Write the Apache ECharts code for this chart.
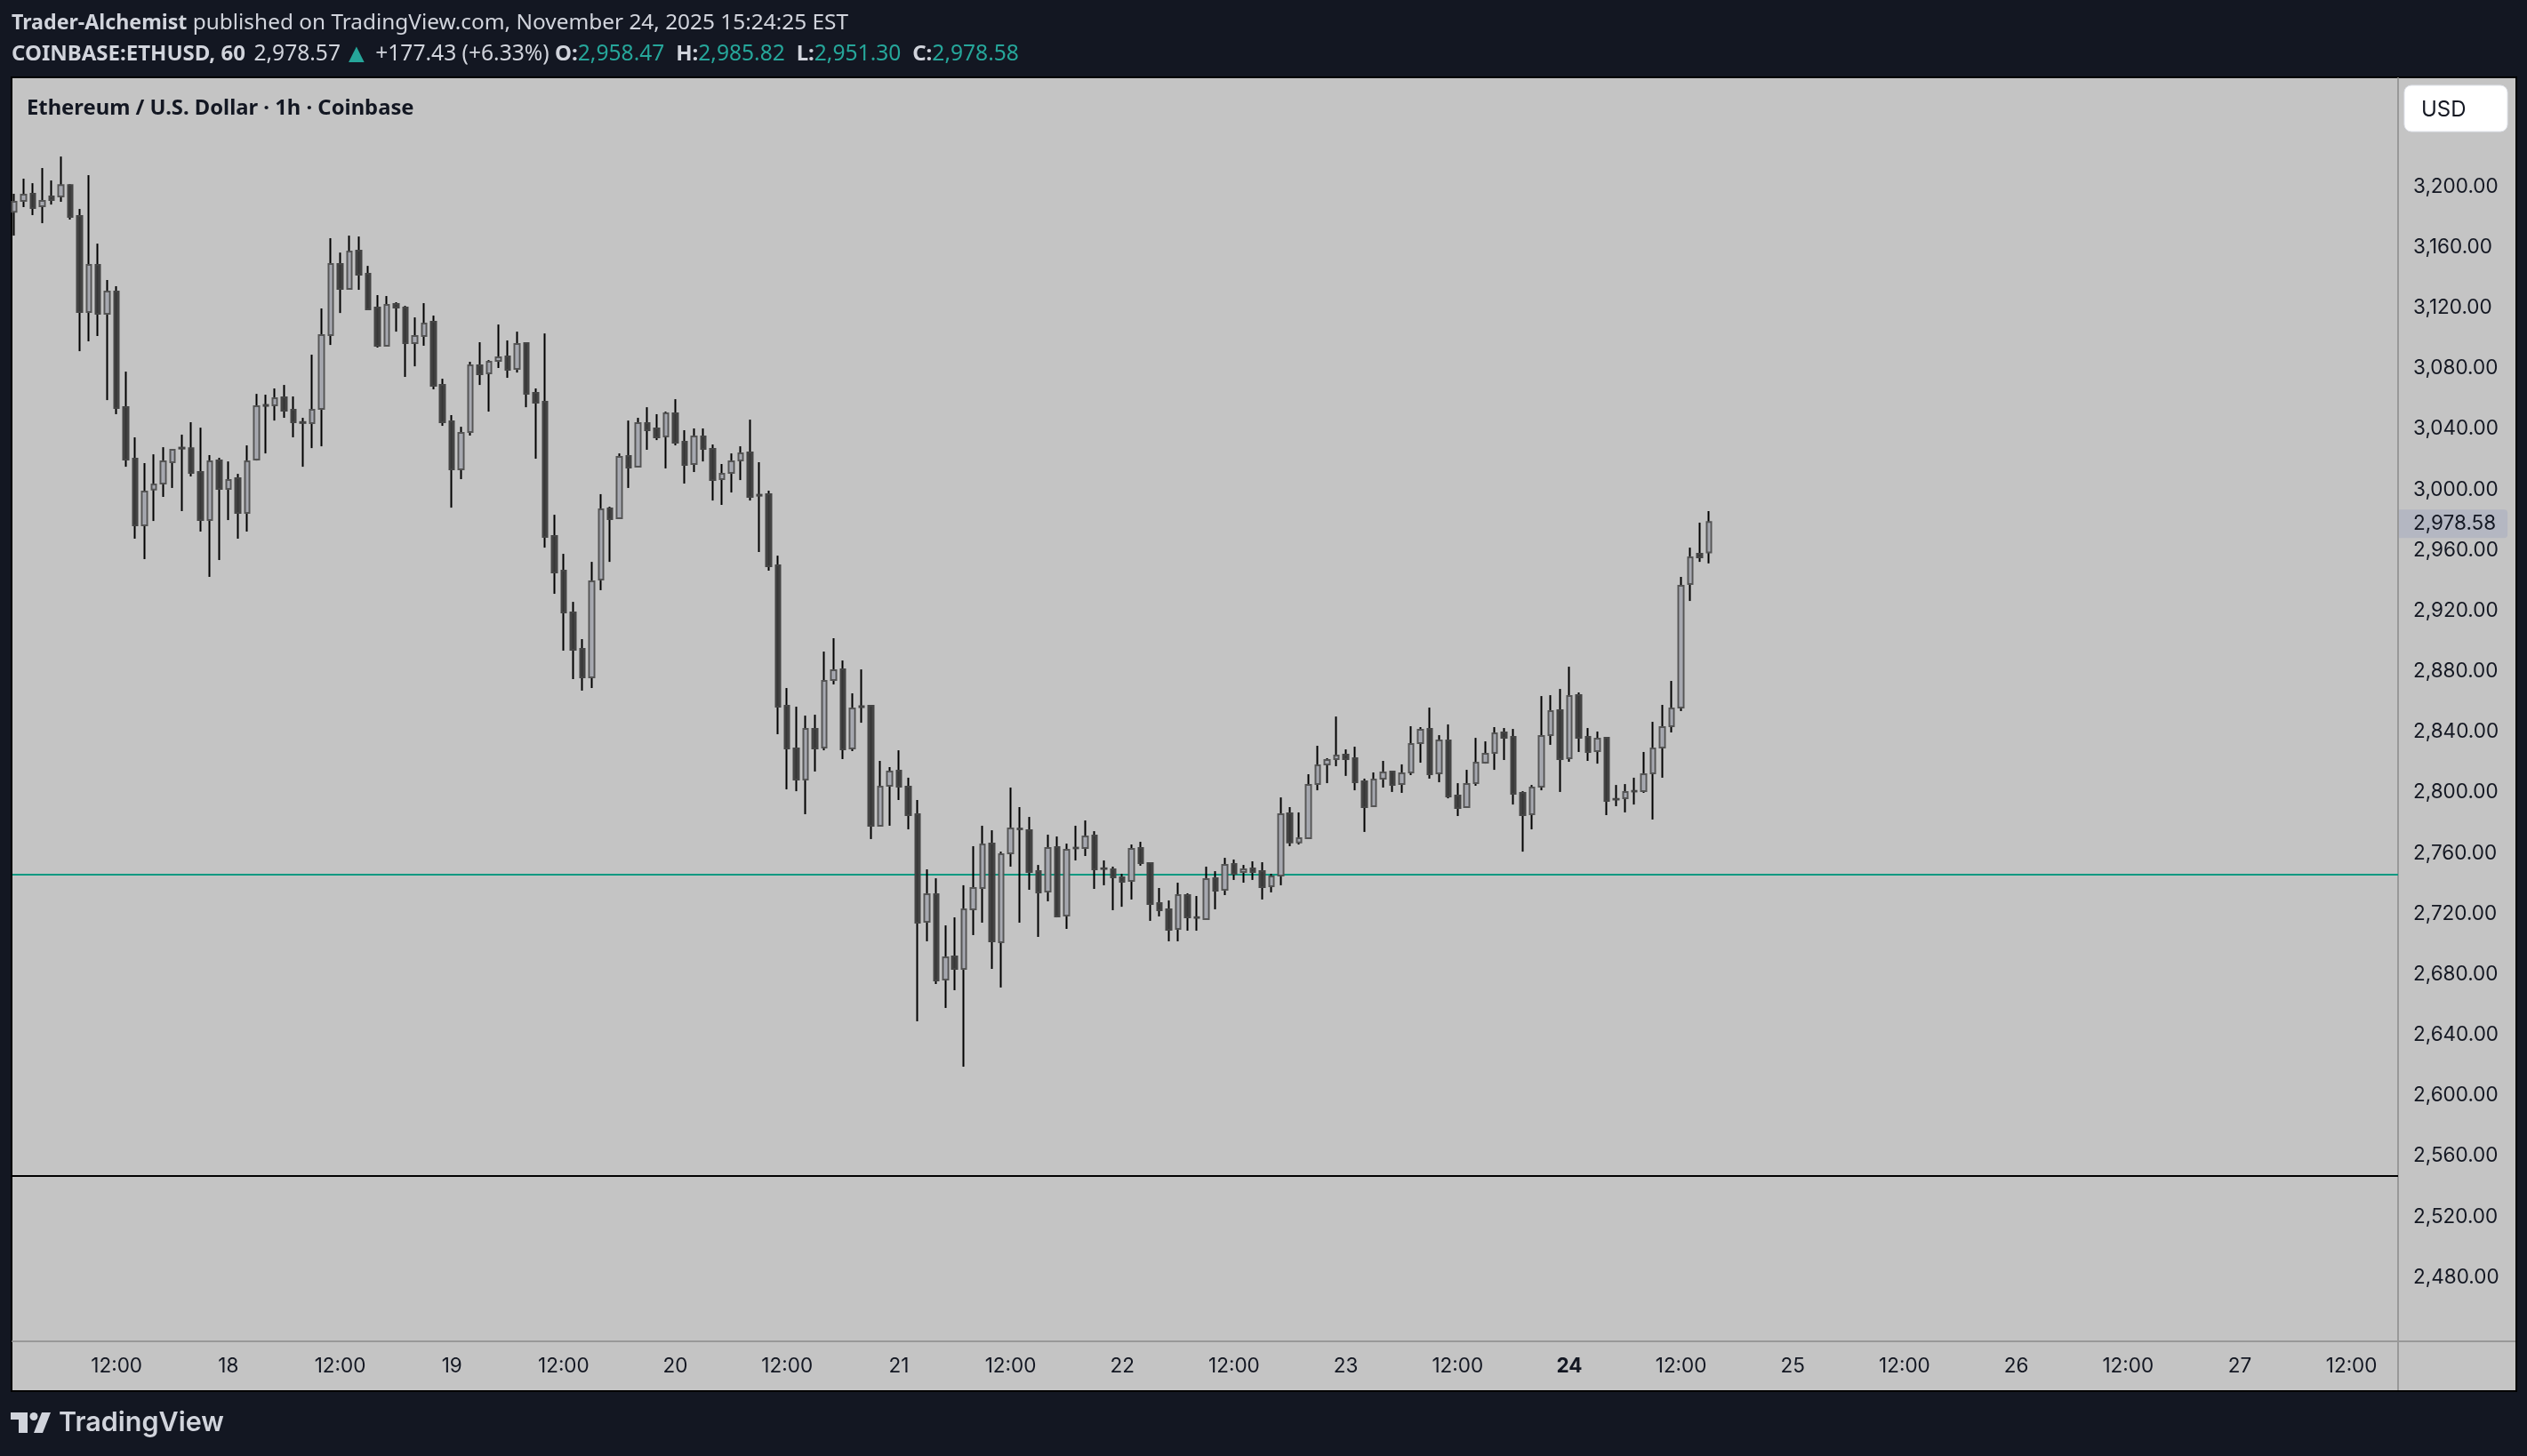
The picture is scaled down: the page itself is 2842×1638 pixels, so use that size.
<!DOCTYPE html>
<html>
<head>
<meta charset="utf-8">
<title>ETHUSD 1h</title>
<style>
  html, body { margin: 0; padding: 0; background: #131722; }
  #chart { width: 2842px; height: 1638px; }
</style>
<script src="https://cdn.jsdelivr.net/npm/echarts@6/dist/echarts.min.js"></script>
</head>
<body>
<div id="chart"></div>
<script>
// hourly bars, first one is Nov 17 01:00
var opens = [
  3183.5,3190.6,3195.3,3187.1,3193.5,3193.5,3201.1,3180.6,3117.2,3148.3,
  3116.1,3130.7,3054.4,3020.4,2976.4,3000.0,3004.0,3018.1,3027.7,3027.4,
  3011.6,2979.9,3019.2,3000.5,3007.5,2984.6,3019.8,3055.9,3055.6,3060.9,
  3052.7,3044.6,3043.9,3053.3,3102.0,3148.9,3132.5,3157.7,3142.5,3120.2,
  3095.0,3122.5,3120.2,3096.7,3101.4,3110.8,3069.1,3045.1,3013.4,3038.0,
  3082.0,3076.7,3085.0,3087.9,3079.7,3096.7,3063.8,3058.0,2969.4,2946.5,
  2918.9,2894.8,2876.0,2940.6,2987.5,2981.1,3022.2,3015.1,3043.9,3040.4,
  3035.1,3050.3,3031.6,3016.9,3035.1,3026.9,3006.9,3011.0,3019.2,3024.5,
  2996.6,2997.0,2950.0,2857.3,2829.1,2808.6,2842.0,2829.7,2874.3,2881.3,
  2829.1,2857.0,2857.3,2778.1,2804.5,2814.4,2803.9,2785.7,2714.7,2732.9,
  2676.6,2691.8,2683.6,2722.9,2737.0,2766.3,2701.2,2759.9,2776.2,2775.1,
  2748.1,2734.6,2764.0,2718.8,2763.6,2763.4,2771.6,2750.0,2749.3,2744.0,
  2741.7,2763.4,2753.4,2727.0,2722.9,2710.0,2732.3,2717.7,2716.4,2743.4,
  2735.8,2752.8,2747.6,2749.9,2748.1,2738.2,2745.2,2786.3,2767.0,2769.9,
  2805.6,2818.6,2822.1,2825.0,2822.7,2807.4,2791.0,2809.2,2813.9,2805.6,
  2813.3,2832.6,2842.0,2812.7,2834.4,2798.0,2790.4,2806.2,2819.7,2826.2,
  2839.7,2836.7,2799.8,2785.7,2803.9,2837.9,2854.4,2822.7,2864.3,2836.7,
  2827.4,2836.1,2795.8,2796.2,2801.1,2800.9,2812.7,2829.7,2843.8,2856.1,
  2937.7,2957.6,2958.47
];
var closes = [
  3190.0,3194.7,3185.9,3190.6,3191.2,3201.1,3180.0,3117.2,3148.3,3116.1,
  3130.7,3053.9,3019.8,2976.4,2998.7,3003.4,3018.6,3026.3,3027.1,3011.0,
  2979.9,3018.6,3000.5,3006.3,2984.6,3018.6,3055.0,3055.3,3060.3,3052.1,
  3044.5,3044.0,3052.7,3102.0,3148.9,3132.5,3157.1,3141.9,3119.0,3095.0,
  3121.9,3120.2,3096.7,3101.4,3109.6,3068.5,3044.5,3013.4,3037.4,3082.0,
  3076.2,3084.4,3087.3,3079.1,3096.1,3063.2,3057.4,2968.8,2945.3,2918.9,
  2894.2,2876.0,2939.4,2987.0,2980.5,3021.6,3014.5,3043.9,3039.2,3034.5,
  3050.3,3031.0,3016.3,3035.1,3026.9,3006.3,3010.4,3018.6,3023.9,2995.2,
  2996.0,2949.4,2856.7,2829.1,2808.6,2842.0,2829.1,2873.7,2880.8,2828.5,
  2855.5,2856.4,2778.1,2803.9,2813.9,2803.9,2785.1,2714.1,2732.9,2676.0,
  2691.2,2683.6,2722.9,2737.0,2765.7,2701.8,2759.3,2776.3,2775.8,2747.6,
  2734.1,2763.4,2718.2,2762.2,2763.2,2771.0,2749.3,2749.6,2744.0,2741.1,
  2762.8,2753.4,2726.4,2722.3,2709.4,2732.3,2717.6,2717.3,2742.8,2735.2,
  2752.2,2746.4,2749.3,2747.6,2737.6,2744.6,2785.7,2767.0,2769.9,2805.0,
  2818.0,2821.5,2824.4,2822.1,2806.8,2790.4,2808.6,2813.3,2805.0,2812.7,
  2832.0,2841.4,2812.1,2834.4,2797.4,2789.8,2805.6,2819.7,2825.6,2839.1,
  2836.1,2799.2,2785.1,2803.3,2837.3,2853.8,2822.1,2863.7,2836.1,2826.8,
  2835.6,2794.5,2795.4,2800.4,2800.7,2812.1,2829.1,2843.2,2855.5,2936.5,
  2955.3,2955.3,2978.58
];
var lows = [
  3167.7,3186.5,3181.2,3175.9,3188.2,3190.0,3178.3,3091.4,3097.9,3101.4,
  3059.1,3049.8,3015.1,2967.6,2954.1,2979.3,2995.2,3001.1,2985.8,3008.7,
  2972.3,2942.4,2953.5,2979.9,2967.6,2972.3,3019.2,3023.9,3045.6,3047.4,
  3034.5,3015.1,3027.4,3028.6,3095.5,3116.6,3132.0,3131.9,3118.6,3093.8,
  3094.4,3104.3,3074.4,3081.4,3095.0,3066.2,3042.1,2988.1,3006.9,3035.7,
  3069.1,3051.5,3080.3,3073.8,3077.3,3054.4,3020.4,2961.7,2931.2,2893.7,
  2874.9,2867.3,2869.0,2933.6,2952.3,2980.8,3001.1,3014.8,3026.3,3032.7,
  3014.0,3029.2,3004.0,3011.6,3018.6,2992.8,2989.9,2998.1,3006.3,2992.8,
  2958.8,2946.5,2838.5,2802.1,2800.9,2785.7,2813.9,2827.9,2871.4,2822.1,
  2827.4,2846.1,2769.3,2777.5,2778.1,2795.1,2775.7,2649.0,2701.8,2673.6,
  2657.8,2669.5,2619.0,2705.9,2714.1,2683.6,2671.3,2751.1,2714.1,2735.8,
  2704.7,2728.2,2717.6,2710.0,2755.2,2758.1,2736.4,2738.8,2722.3,2724.6,
  2729.4,2751.7,2715.3,2718.2,2701.8,2701.8,2708.8,2708.8,2715.9,2722.9,
  2732.3,2742.3,2740.5,2742.3,2729.4,2734.1,2738.8,2764.6,2765.7,2769.3,
  2801.5,2806.2,2817.4,2811.0,2801.5,2774.0,2790.4,2803.3,2800.4,2799.8,
  2811.5,2819.7,2809.2,2806.8,2796.2,2784.5,2789.8,2804.5,2819.1,2815.0,
  2821.5,2792.1,2761.0,2775.7,2801.5,2831.5,2800.4,2820.3,2826.8,2820.9,
  2819.1,2785.1,2791.0,2786.9,2792.1,2799.8,2782.2,2809.8,2839.7,2853.8,
  2926.5,2952.3,2951.30
];
var highs = [
  3195.3,3205.3,3202.3,3212.3,3204.1,3219.9,3201.6,3185.3,3207.6,3162.4,
  3138.4,3134.3,3077.9,3034.5,3017.5,3023.3,3028.0,3026.8,3036.3,3044.5,
  3040.9,3022.8,3021.0,3018.6,3010.4,3029.2,3063.2,3062.7,3066.8,3069.1,
  3061.5,3047.4,3089.1,3119.6,3166.0,3156.5,3167.7,3167.1,3147.7,3128.4,
  3127.8,3123.7,3121.3,3113.7,3123.1,3114.9,3073.2,3049.2,3041.5,3084.4,
  3097.3,3085.5,3109.0,3098.5,3104.3,3097.3,3066.8,3103.1,2983.4,2957.6,
  2925.9,2901.3,2952.3,2997.0,2988.7,3023.9,3045.6,3047.4,3054.4,3049.8,
  3051.5,3059.7,3039.2,3040.4,3040.4,3029.8,3016.9,3023.9,3028.6,3046.2,
  3018.1,2999.3,2956.4,2869.0,2856.7,2850.8,2851.4,2893.1,2901.9,2887.2,
  2865.5,2881.3,2857.6,2820.9,2816.8,2827.9,2809.8,2795.1,2749.3,2743.4,
  2712.3,2717.6,2738.8,2764.6,2778.1,2775.1,2761.0,2803.3,2790.4,2783.9,
  2752.2,2772.2,2771.0,2766.3,2778.1,2781.6,2774.5,2755.2,2751.1,2746.4,
  2765.7,2767.5,2753.9,2737.0,2728.8,2740.5,2733.5,2731.7,2751.1,2748.1,
  2756.9,2755.8,2752.2,2754.6,2754.0,2746.4,2796.8,2790.4,2786.9,2812.1,
  2830.9,2822.7,2850.2,2828.5,2830.3,2809.2,2813.3,2820.9,2814.4,2818.6,
  2843.8,2843.2,2856.1,2837.9,2845.0,2806.2,2815.0,2836.1,2833.8,2843.2,
  2842.6,2842.0,2800.9,2805.0,2863.7,2864.3,2868.4,2883.1,2866.1,2842.6,
  2840.3,2836.4,2805.0,2805.6,2809.8,2826.8,2846.7,2857.9,2873.7,2942.4,
  2961.7,2978.2,2985.82
];

var priceTicks = [2480,2520,2560,2600,2640,2680,2720,2760,2800,2840,2880,2920,2960,3000,3040,3080,3120,3160,3200];
var timeTickBars = [11,23,35,47,59,71,83,95,107,119,131,143,155,167,179,191,203,215,227,239,251];
var timeTickLabels = ['12:00','18','12:00','19','12:00','20','12:00','21','12:00','22','12:00','23','12:00','24','12:00','25','12:00','26','12:00','27','12:00'];
var tealLevel = 2745.8;
var blackLevel = 2546.9;
var lastPrice = 2978.58;

var chart = echarts.init(document.getElementById('chart'));

var wicks = opens.map(function (o, i) {
    return [i, o, closes[i], lows[i], highs[i]];
});
var bodies = opens.map(function (o, i) {
    return [i, o, closes[i], Math.min(o, closes[i]), Math.max(o, closes[i])];
});

var UI_FONT = 'Inter';
var HEAD_FONT = '"Noto Sans"';
var HEAD_GREY = '#d1d4dc';
var TEAL = '#26a69a';
var AXIS_GREY = '#999999';

function headStyle(size, bold, color) {
    return { fontFamily: HEAD_FONT, fontSize: size, fontWeight: bold ? 700 : 400, fill: color, color: color, lineHeight: 30 };
}

var option = {
    backgroundColor: '#131722',
    animation: false,
    grid: { left: 14, right: 145, top: 88, bottom: 129 },
    xAxis: {
        type: 'value',
        min: -0.19,
        max: 256,
        splitLine: { show: false },
        axisTick: { show: false },
        axisLine: { show: true, onZero: false, lineStyle: { color: AXIS_GREY, width: 2 } },
        axisLabel: {
            customValues: timeTickBars,
            margin: 16.5,
            fontFamily: UI_FONT,
            fontSize: 22.5,
            color: '#131722',
            hideOverlap: false,
            formatter: function (v) {
                var s = timeTickLabels[timeTickBars.indexOf(v)];
                return s === '24' ? '{b|24}' : s;
            },
            rich: { b: { fontFamily: UI_FONT, fontSize: 22.5, fontWeight: 700, color: '#131722' } }
        }
    },
    yAxis: {
        type: 'value',
        position: 'right',
        min: 2437.7,
        max: 3271.6,
        scale: true,
        splitLine: { show: false },
        axisTick: { show: false },
        axisLine: { show: true, onZero: false, lineStyle: { color: AXIS_GREY, width: 2 } },
        axisLabel: {
            customValues: priceTicks,
            margin: 17,
            padding: [6, 0, 0, 0],
            fontFamily: UI_FONT,
            fontSize: 22.5,
            color: '#131722',
            formatter: function (v) {
                return v.toLocaleString('en-US', { minimumFractionDigits: 2, maximumFractionDigits: 2 });
            }
        }
    },
    series: [
        {
            name: 'wicks',
            type: 'candlestick',
            z: 2,
            barWidth: 1,
            data: wicks,
            silent: true,
            itemStyle: { color: '#000', color0: '#000', borderColor: '#000', borderColor0: '#000', borderWidth: 2 },
            markLine: {
                silent: true,
                symbol: 'none',
                z: 1,
                label: { show: false },
                data: [
                    { yAxis: tealLevel, lineStyle: { color: '#089981', width: 2, type: 'solid' } },
                    { yAxis: blackLevel, lineStyle: { color: '#000000', width: 2, type: 'solid' } },
                    {
                        yAxis: lastPrice,
                        lineStyle: { color: 'rgba(0,0,0,0)', width: 1, type: 'solid' },
                        label: {
                            show: true,
                            position: 'end',
                            distance: 1,
                            offset: [0, 2],
                            formatter: lastPrice.toLocaleString('en-US', { minimumFractionDigits: 2 }),
                            fontFamily: UI_FONT,
                            fontSize: 22.5,
                            lineHeight: 24,
                            color: '#131722',
                            backgroundColor: '#b4b7c2',
                            borderRadius: [0, 4, 4, 0],
                            padding: [3, 13, 5, 16]
                        }
                    }
                ]
            }
        },
        {
            name: 'bodies',
            type: 'candlestick',
            z: 3,
            barWidth: 6,
            data: bodies,
            itemStyle: {
                color: 'rgba(176,178,187,0.92)',
                color0: 'rgba(58,58,58,0.93)',
                borderColor: '#555555',
                borderColor0: '#444444',
                borderWidth: 2
            }
        }
    ],
    graphic: [
        {
            type: 'rect', z: -1, silent: true,
            shape: { x: 13, y: 87, width: 2817, height: 1478 },
            style: { fill: '#c4c4c4', stroke: '#000000', lineWidth: 2 }
        },
        // the two scale borders run on to the frame
        { type: 'rect', z: 1, silent: true, shape: { x: 2696, y: 1508, width: 2, height: 56 }, style: { fill: AXIS_GREY } },
        { type: 'rect', z: 1, silent: true, shape: { x: 2696, y: 1508, width: 133, height: 2 }, style: { fill: AXIS_GREY } },
        {
            type: 'text', left: 13, top: 14, z: 5,
            style: {
                rich: {
                    a: headStyle(23.2, true, HEAD_GREY),
                    n: headStyle(24.4, false, HEAD_GREY)
                },
                text: '{a|Trader-Alchemist}{n| published on TradingView.com, November 24, 2025 15:24:25 EST}'
            }
        },
        {
            type: 'text', left: 13, top: 46, z: 5,
            style: {
                rich: {
                    a: headStyle(24, true, HEAD_GREY),
                    n: headStyle(24.6, false, HEAD_GREY),
                    t: headStyle(24.6, false, TEAL),
                    u: headStyle(30, false, TEAL),
                    s: headStyle(12, false, HEAD_GREY)
                },
                text: '{a|COINBASE:ETHUSD, 60}{n| }{s| }{n|2,978.57}{s| }{u|▲}{n| +177.43 (+6.33%) }{a|O:}{t|2,958.47  }{a|H:}{t|2,985.82  }{a|L:}{t|2,951.30  }{a|C:}{t|2,978.58}'
            }
        },
        {
            type: 'text', left: 30, top: 110, z: 5,
            style: {
                text: 'Ethereum / U.S. Dollar · 1h · Coinbase',
                font: '700 23.8px "Noto Sans"',
                fill: '#131722'
            }
        },
        {
            type: 'rect', z: 5, silent: true,
            shape: { x: 2704, y: 96, width: 116, height: 52, r: 8 },
            style: { fill: '#ffffff', stroke: '#e0e3eb', lineWidth: 1 }
        },
        {
            type: 'text', left: 2723, top: 112, z: 6,
            style: { text: 'USD', font: '400 24px Inter', fill: '#131722' }
        },
        // TradingView logo, top bar and stem of the T, dot, slash
        { type: 'polygon', z: 5, silent: true, shape: { points: [[12, 1589], [31, 1589], [31, 1612], [21, 1612], [21, 1597], [12, 1597]] }, style: { fill: HEAD_GREY } },
        { type: 'circle', z: 5, silent: true, shape: { cx: 38, cy: 1593.5, r: 4.5 }, style: { fill: HEAD_GREY } },
        { type: 'polygon', z: 5, silent: true, shape: { points: [[47, 1589], [57, 1589], [48, 1612], [38, 1612]] }, style: { fill: HEAD_GREY } },
        {
            type: 'text', left: 66, top: 1585, z: 5,
            style: { text: 'TradingView', font: '600 30.5px Inter', fill: HEAD_GREY }
        }
    ]
};
chart.setOption(option);
</script>
</body>
</html>
